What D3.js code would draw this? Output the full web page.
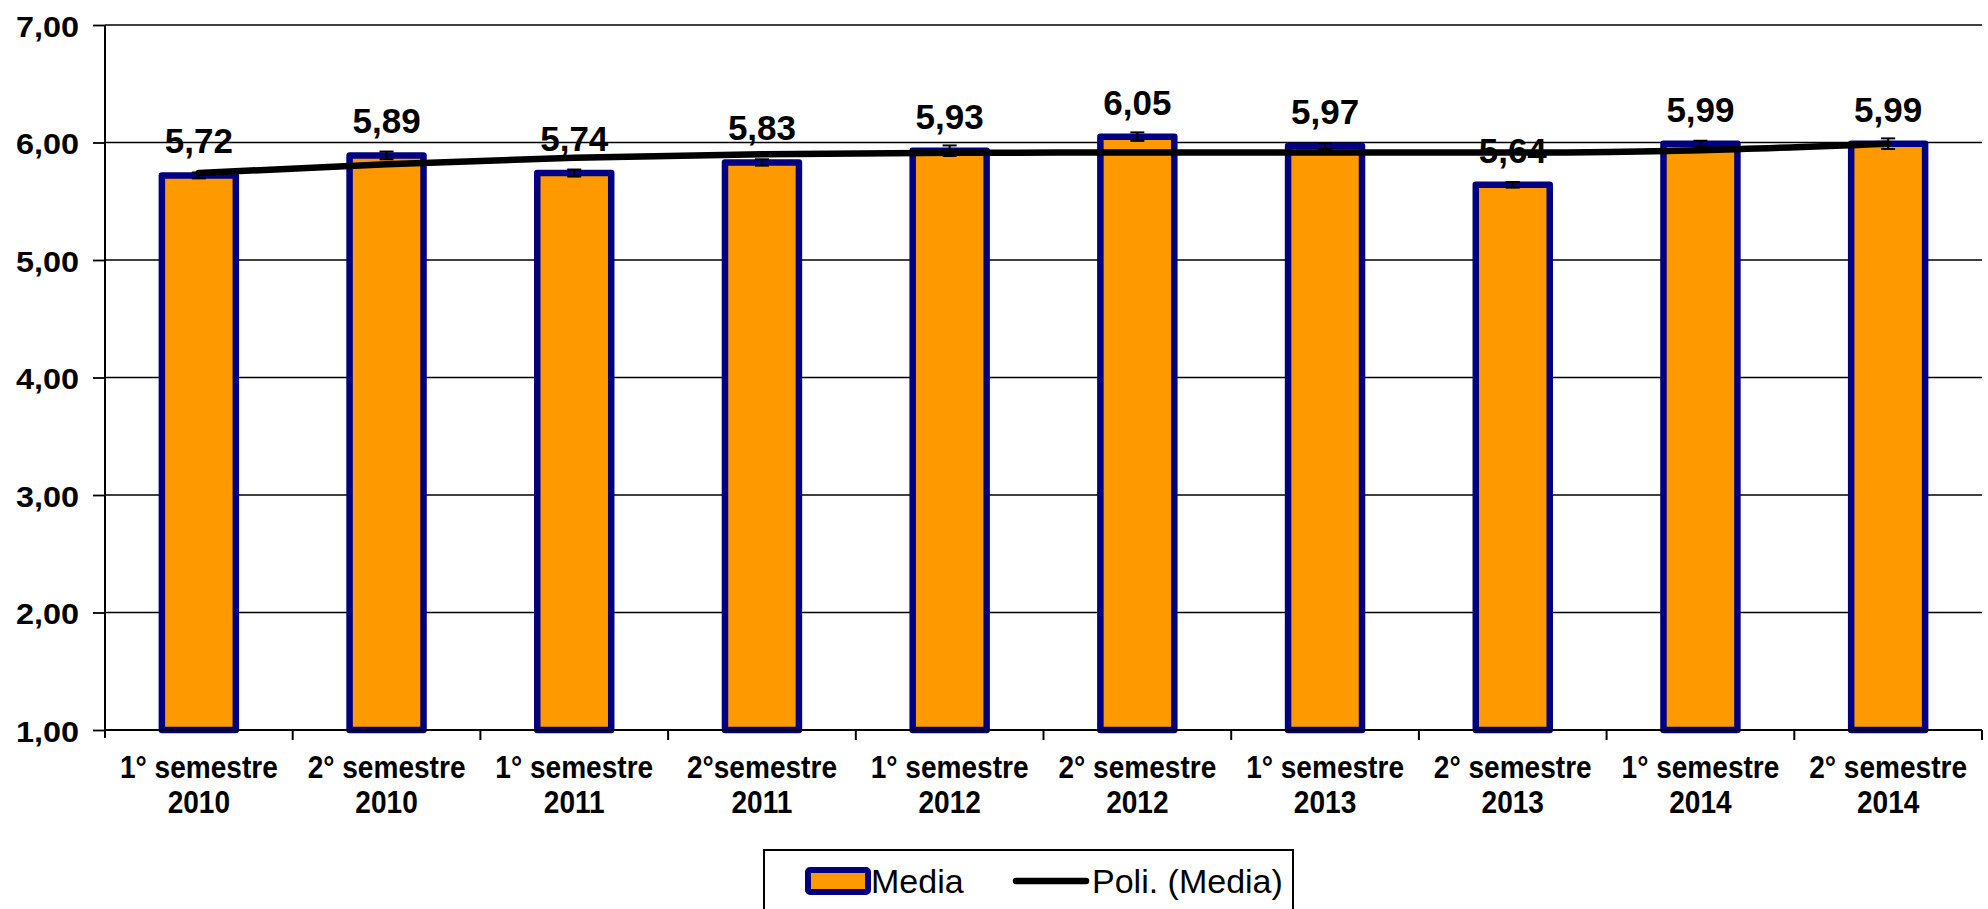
<!DOCTYPE html>
<html>
<head>
<meta charset="utf-8">
<script src="https://cdn.jsdelivr.net/npm/d3@7"></script>
<style>
  html, body { margin: 0; padding: 0; background: #ffffff; }
  svg { display: block; }
  text { font-family: "Liberation Sans", Arial, sans-serif; fill: #000; }
</style>
</head>
<body>
<svg id="chart" width="1988" height="909"></svg>
<script>
// Semester labels (two lines each)
const categoryLine1 = ["1° semestre", "2° semestre", "1° semestre", "2°semestre", "1° semestre",
                       "2° semestre", "1° semestre", "2° semestre", "1° semestre", "2° semestre"];
const categoryLine2 = ["2010", "2010", "2011", "2011", "2012", "2012", "2013", "2013", "2014", "2014"];

// Mean score per semester
const mediaValues = [5.72, 5.89, 5.74, 5.83, 5.93, 6.05, 5.97, 5.64, 5.99, 5.99];
// Half-width of the error bar for each mean
const mediaErrors = [0.025, 0.033, 0.030, 0.027, 0.045, 0.036, 0.025, 0.024, 0.025, 0.045];
// Polynomial trendline of the mean, at each semester
const trendValues = [5.74, 5.815, 5.87, 5.90, 5.912, 5.915, 5.915, 5.915, 5.935, 5.99];

// Value axis
const yTickValues = [1, 2, 3, 4, 5, 6, 7];
const yTickLabels = ["1,00", "2,00", "3,00", "4,00", "5,00", "6,00", "7,00"];
const valueLabels = ["5,72", "5,89", "5,74", "5,83", "5,93", "6,05", "5,97", "5,64", "5,99", "5,99"];

const legendLabels = ["Media", "Poli. (Media)"];

const svg = d3.select("#chart");
const categories = d3.range(mediaValues.length);

const plot = { left: 105, right: 1982, top: 25, bottom: 730 };

const x = d3.scaleBand()
  .domain(categories)
  .range([plot.left, plot.right])
  .paddingInner(0.606)
  .paddingOuter(0.303);

const y = d3.scaleLinear()
  .domain([1, 7])
  .range([plot.bottom, plot.top]);

const cx = i => x(i) + x.bandwidth() / 2;

// Horizontal gridlines
svg.append("g")
  .selectAll("line")
  .data(yTickValues.filter(v => v > 1))
  .join("line")
  .attr("x1", plot.left).attr("x2", plot.right)
  .attr("y1", d => y(d)).attr("y2", d => y(d))
  .attr("stroke", "#000").attr("stroke-width", 1.6);

// Value axis
const yAxis = d3.axisLeft(y)
  .tickValues(yTickValues)
  .tickFormat((d, i) => yTickLabels[i])
  .tickSize(12)
  .tickSizeOuter(0)
  .tickPadding(14);

const yAxisG = svg.append("g")
  .attr("transform", `translate(${plot.left},0)`)
  .call(yAxis);
yAxisG.select(".domain").remove();
yAxisG.selectAll(".tick line").attr("stroke", "#000").attr("stroke-width", 1.8);
yAxisG.selectAll(".tick text")
  .attr("font-size", 30)
  .attr("font-weight", "bold")
  .attr("dy", null)
  .attr("y", 11)
  .style("font-family", '"Liberation Sans", Arial, sans-serif')
  .each(function () {
    const w = this.getComputedTextLength();
    d3.select(this).attr("textLength", w * 1.08).attr("lengthAdjust", "spacingAndGlyphs");
  });

svg.append("line")
  .attr("x1", plot.left).attr("x2", plot.left)
  .attr("y1", y(7)).attr("y2", y(1) + 8)
  .attr("stroke", "#000").attr("stroke-width", 2);

// Bars
svg.append("g")
  .selectAll("rect")
  .data(mediaValues)
  .join("rect")
  .attr("x", (d, i) => x(i))
  .attr("y", d => y(d))
  .attr("width", x.bandwidth())
  .attr("height", d => y(1) - y(d))
  .attr("fill", "#FF9900")
  .attr("stroke", "#000080")
  .attr("stroke-width", 6.5)
  .attr("stroke-linejoin", "round");

// Category axis
const boundaries = d3.range(mediaValues.length + 1).map(i => plot.left + i * x.step());
svg.append("line")
  .attr("x1", plot.left).attr("x2", plot.right)
  .attr("y1", y(1)).attr("y2", y(1))
  .attr("stroke", "#000").attr("stroke-width", 2.2);
svg.append("g")
  .selectAll("line")
  .data(boundaries.slice(1))
  .join("line")
  .attr("x1", d => d).attr("x2", d => d)
  .attr("y1", y(1)).attr("y2", y(1) + 10)
  .attr("stroke", "#000").attr("stroke-width", 2);

const xLabels = svg.append("g")
  .selectAll("g")
  .data(categories)
  .join("g")
  .attr("transform", i => `translate(${cx(i)},0)`);
xLabels.append("text")
  .attr("y", 777.5)
  .attr("text-anchor", "middle")
  .attr("font-size", 30.5)
  .attr("font-weight", "bold")
  .text(i => categoryLine1[i]);
xLabels.append("text")
  .attr("y", 812.5)
  .attr("text-anchor", "middle")
  .attr("font-size", 30.5)
  .attr("font-weight", "bold")
  .text(i => categoryLine2[i]);
xLabels.selectAll("text").each(function () {
  const w = this.getComputedTextLength();
  d3.select(this).attr("textLength", w * 0.92).attr("lengthAdjust", "spacingAndGlyphs");
});

// Error bars
const err = svg.append("g")
  .selectAll("g")
  .data(mediaValues)
  .join("g")
  .attr("stroke", "#000")
  .attr("stroke-width", 2);
err.append("line")
  .attr("x1", (d, i) => cx(i)).attr("x2", (d, i) => cx(i))
  .attr("y1", (d, i) => y(d - mediaErrors[i]))
  .attr("y2", (d, i) => y(d + mediaErrors[i]));
err.append("line")
  .attr("x1", (d, i) => cx(i) - 7).attr("x2", (d, i) => cx(i) + 7)
  .attr("y1", (d, i) => y(d + mediaErrors[i]))
  .attr("y2", (d, i) => y(d + mediaErrors[i]));
err.append("line")
  .attr("x1", (d, i) => cx(i) - 7).attr("x2", (d, i) => cx(i) + 7)
  .attr("y1", (d, i) => y(d - mediaErrors[i]))
  .attr("y2", (d, i) => y(d - mediaErrors[i]));

// Polynomial trendline
const trendLine = d3.line()
  .x((d, i) => cx(i))
  .y(d => y(d))
  .curve(d3.curveMonotoneX);
svg.append("path")
  .datum(trendValues)
  .attr("d", trendLine)
  .attr("fill", "none")
  .attr("stroke", "#000")
  .attr("stroke-width", 6.5)
  .attr("stroke-linecap", "round")
  .attr("stroke-linejoin", "round");

// Value labels
svg.append("g")
  .selectAll("text")
  .data(mediaValues)
  .join("text")
  .attr("x", (d, i) => cx(i))
  .attr("y", d => y(d) - 22)
  .attr("text-anchor", "middle")
  .attr("font-size", 35)
  .attr("font-weight", "bold")
  .text((d, i) => valueLabels[i]);

// Legend
const legend = svg.append("g");
legend.append("rect")
  .attr("x", 764).attr("y", 850)
  .attr("width", 529).attr("height", 80)
  .attr("fill", "#fff")
  .attr("stroke", "#000")
  .attr("stroke-width", 2);
legend.append("rect")
  .attr("x", 808).attr("y", 870)
  .attr("width", 60).attr("height", 22)
  .attr("rx", 2)
  .attr("fill", "#FF9900")
  .attr("stroke", "#000080")
  .attr("stroke-width", 6);
legend.append("text")
  .attr("x", 871).attr("y", 893)
  .attr("font-size", 34)
  .text(legendLabels[0]);
legend.append("line")
  .attr("x1", 1016).attr("x2", 1086)
  .attr("y1", 881).attr("y2", 881)
  .attr("stroke", "#000")
  .attr("stroke-width", 6.5)
  .attr("stroke-linecap", "round");
legend.append("text")
  .attr("x", 1092).attr("y", 893)
  .attr("font-size", 34)
  .text(legendLabels[1]);
</script>
</body>
</html>
